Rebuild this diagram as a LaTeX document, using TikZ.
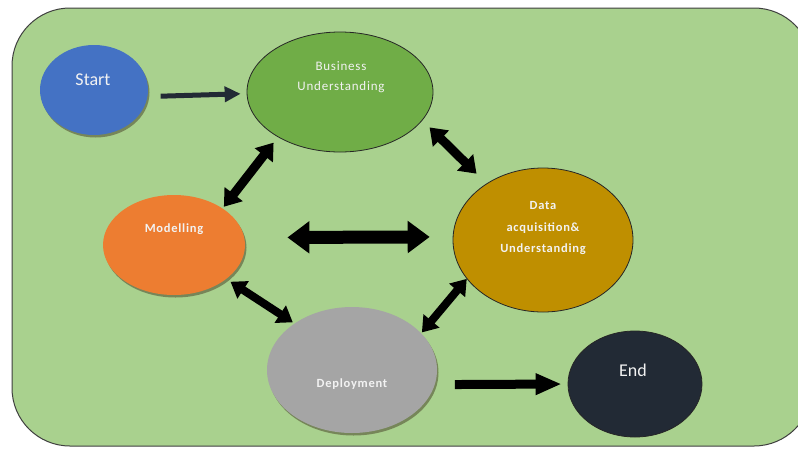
\documentclass[tikz,border=0pt]{standalone}
\usepackage{fontspec}
\setmainfont{Carlito}
\newfontfamily\spacedfont[LetterSpace=6]{Carlito}
\usetikzlibrary{shapes.geometric,arrows.meta,shadows}
\definecolor{panel}{HTML}{A9D18E}
\definecolor{panelline}{HTML}{3F3F3F}
\definecolor{cstart}{HTML}{4472C4}
\definecolor{cbiz}{HTML}{70AD47}
\definecolor{cdata}{HTML}{BF8F00}
\definecolor{cmod}{HTML}{ED7D31}
\definecolor{cdep}{HTML}{A5A5A5}
\definecolor{cend}{HTML}{222A35}
\definecolor{ctext}{HTML}{F2F2F2}
\tikzset{
  phase/.style={ellipse, inner sep=0pt},
  outlined/.style={draw=black!85, line width=0.8pt},
  shade3d/.style={drop shadow={shadow xshift=1.5pt, shadow yshift=-2.5pt, fill=black!60!olive, opacity=0.55}},
  caption/.style={text=ctext, align=center, font=\spacedfont\fontsize{13}{20}\selectfont},
  boldcaption/.style={caption, font=\spacedfont\bfseries\fontsize{12.5}{21.5}\selectfont},
  bigcaption/.style={text=ctext, align=center, font=\fontsize{18}{20}\selectfont},
  flow/.style={line width=#1, draw=black},
}
\begin{document}
\begin{tikzpicture}[x=1pt,y=-1pt]
\useasboundingbox (0,0) rectangle (798,448);
% background panel
\draw[fill=panel, draw=panelline, line width=1pt, rounded corners=58pt] (12,8) rectangle (812,446);

% phases
\node[phase, shade3d, fill=cstart, minimum width=108pt, minimum height=90pt] (start) at (94,90) {};
\node[phase, outlined, fill=cbiz, minimum width=186pt, minimum height=120pt] (biz) at (340,92) {};
\node[phase, outlined, fill=cdata, minimum width=180pt, minimum height=144pt] (data) at (543,240) {};
\node[phase, shade3d, fill=cmod, minimum width=142pt, minimum height=100pt] (model) at (174,245) {};
\node[phase, shade3d, fill=cdep, minimum width=170pt, minimum height=126pt] (deploy) at (352,370) {};
\node[phase, outlined, fill=cend, minimum width=134pt, minimum height=106pt] (finish) at (635,384) {};

% captions
\node[bigcaption] (tstart) at (93,80) {Start};
\node[caption] (tbiz) at (341,77) {Business\\Understanding};
\node[boldcaption] (tdata) at (543,228) {Data\\acquisition\&\\Understanding};
\node[boldcaption] (tmodel) at (174,229) {Modelling};
\node[boldcaption] (tdeploy) at (352,384) {Deployment};
\node[bigcaption] (tend) at (633,370) {End};

% connectors
\draw[line width=5pt, draw=cend, -{Triangle[length=16pt,width=15pt]}, shorten <=13pt, shorten >=6pt]
  (start.-7) -- (biz.181);
\draw[flow=9pt, {Triangle[length=16pt,width=22pt]}-{Triangle[length=16pt,width=22pt]}, shorten <=7pt, shorten >=2pt]
  (biz.216) -- (model.37);
\draw[flow=9pt, {Triangle[length=16pt,width=22pt]}-{Triangle[length=16pt,width=22pt]}, shorten <=10pt, shorten >=14pt]
  (biz.341) -- (data.135);
\draw[flow=13pt, {Triangle[length=22pt,width=31pt]}-{Triangle[length=22pt,width=31pt]}, shorten <=43pt, shorten >=23pt]
  (model.6) -- (data.178);
\draw[flow=8pt, {Triangle[length=15pt,width=20pt]}-{Triangle[length=15pt,width=20pt]}, shorten <=5pt, shorten >=2pt]
  (model.-33) -- (deploy.141);
\draw[flow=8pt, {Triangle[length=15pt,width=20pt]}-{Triangle[length=15pt,width=20pt]}, shorten <=0pt, shorten >=1pt]
  (data.207) -- (deploy.28);
\draw[flow=9pt, -{Triangle[length=26pt,width=20pt]}, shorten <=20pt, shorten >=6pt]
  (deploy.-10) -- (finish.180);
\end{tikzpicture}
\end{document}
